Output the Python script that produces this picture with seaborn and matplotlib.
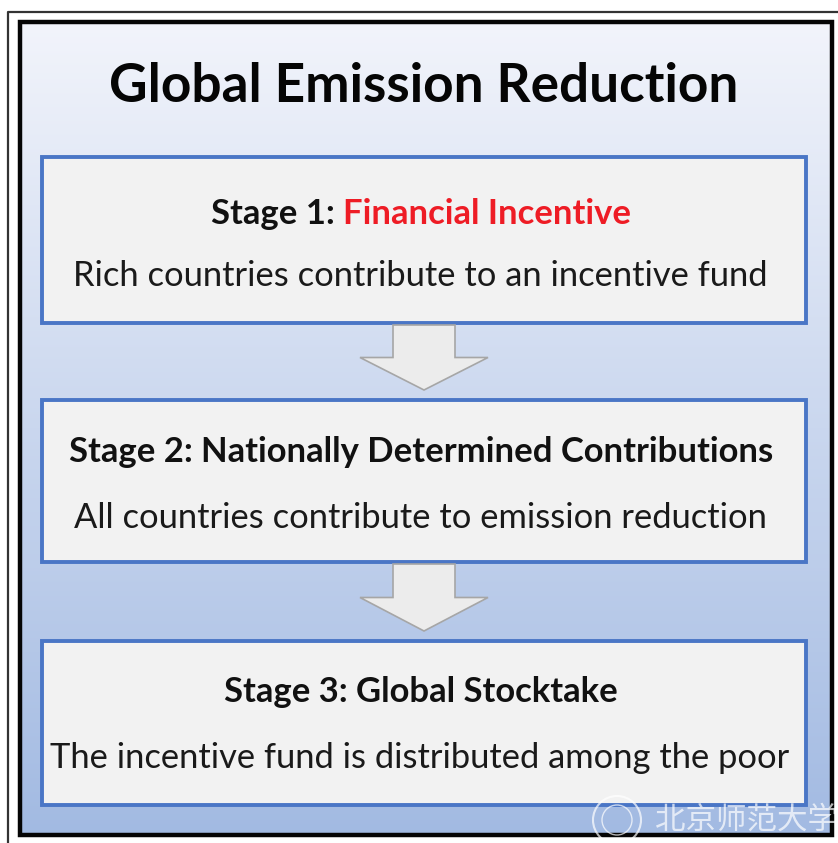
import numpy as np
import matplotlib
matplotlib.use("Agg")
import matplotlib.pyplot as plt
import seaborn as sns
from matplotlib.patches import Rectangle, Polygon

# ---- content ----
title = "Global Emission Reduction"
stage_labels = ["Stage 1: ", "Stage 2: ", "Stage 3: "]
stage_names = ["Financial Incentive", "Nationally Determined Contributions", "Global Stocktake"]
stage_name_colors = ["#ee1c25", "#111111", "#111111"]
stage_descriptions = [
    "Rich countries contribute to an incentive fund",
    "All countries contribute to emission reduction",
    "The incentive fund is distributed among the poor",
]
watermark = "北京师范大学"

# ---- layout (pixel space) ----
W, H = 838, 843
box_tops = [157, 400, 641]
box_bottoms = [323, 562, 805]
box_left, box_right = 42, 806
head_y = [214, 452, 692]
desc_y = [276, 518, 758]

sns.set_theme(style="white")
plt.rcParams["font.family"] = ["Lato", "DejaVu Sans"]

fig = plt.figure(figsize=(W / 100, H / 100), dpi=100)
fig.patch.set_facecolor("white")
ax = fig.add_axes([0, 0, 1, 1])
ax.set_xlim(0, W)
ax.set_ylim(H, 0)
ax.axis("off")

# gradient background inside the frame
grad = np.linspace(0, 1, 256)[:, None]
top_c = np.array([242, 244, 251]) / 255
bot_c = np.array([162, 186, 226]) / 255
img = top_c[None, None, :] * (1 - grad[..., None]) + bot_c[None, None, :] * grad[..., None]
img = np.repeat(img, 2, axis=1)
ax.imshow(img, extent=[20, 832, 836, 21], aspect="auto", zorder=0, interpolation="bilinear")

# outer thin frame
ax.plot([8, 8, W + 5], [H + 5, 12, 12], color="#333333", lw=1.6, zorder=1)
# thick frame
ax.add_patch(Rectangle((20, 22), 812, 813, fill=False, ec="#050505", lw=3.2, zorder=5))

fig.canvas.draw()
renderer = fig.canvas.get_renderer()


def fit_text(x, y, s, target_w, weight="normal", color="#111111", ha="center"):
    t = ax.text(x, y, s, fontsize=20, fontweight=weight, color=color, ha=ha, va="center", zorder=6)
    w = t.get_window_extent(renderer).width
    t.set_fontsize(20 * target_w / w)
    return t


fit_text(W / 2 + 5, 86, title, 630, weight="bold", color="#050505")

# stage boxes
for i in range(3):
    ax.add_patch(Rectangle((box_left, box_tops[i]), box_right - box_left, box_bottoms[i] - box_tops[i],
                           fc="#f2f2f2", ec="#4a76c6", lw=2.8, zorder=3))

# arrows
for i in range(2):
    y0 = box_bottoms[i] + 2
    y1 = box_tops[i + 1] - 10
    yh = y0 + (y1 - y0) * 0.5
    cx = 424
    pts = [(cx - 31, y0), (cx + 31, y0), (cx + 31, yh), (cx + 64, yh), (cx, y1),
           (cx - 64, yh), (cx - 31, yh)]
    ax.add_patch(Polygon(pts, closed=True, fc="#ececec", ec="#a6a6a6", lw=1.2, zorder=4))

# stage 2 heading determines bold size
t2 = fit_text(W / 2, head_y[1], stage_labels[1] + stage_names[1], 704, weight="bold")
fs_head = t2.get_fontsize()
t2.remove()

for i in range(3):
    a = ax.text(0, head_y[i], stage_labels[i], fontsize=fs_head, fontweight="bold", color="#111111",
                ha="left", va="center", zorder=6)
    b = ax.text(0, head_y[i], stage_names[i], fontsize=fs_head, fontweight="bold",
                color=stage_name_colors[i], ha="left", va="center", zorder=6)
    wa = a.get_window_extent(renderer).width
    wb = b.get_window_extent(renderer).width
    total = wa + wb
    x0 = W / 2 + 2 - total / 2
    a.set_x(x0)
    b.set_x(x0 + wa)

desc_widths = [692, 696, 744]
d_sizes = []
for i in range(3):
    t = ax.text(W / 2, desc_y[i], stage_descriptions[i], fontsize=20, ha="center", va="center",
                color="#1a1a1a", zorder=6)
    d_sizes.append(20 * desc_widths[i] / t.get_window_extent(renderer).width)
    t.remove()
fs_desc = float(np.mean(d_sizes))
for i in range(3):
    ax.text(W / 2 + 1, desc_y[i], stage_descriptions[i], fontsize=fs_desc, ha="center", va="center",
            color="#1a1a1a", zorder=6)

# watermark
ax.text(655, 820, watermark, fontsize=22, color="white", alpha=0.7, ha="left", va="center",
        family=["Noto Sans CJK SC", "DejaVu Sans"], style="italic", zorder=7, clip_on=True)
ax.add_patch(plt.Circle((617, 820), 24, fill=False, ec="white", lw=1.5, alpha=0.7, zorder=7))
ax.add_patch(plt.Circle((617, 820), 15, fill=False, ec="white", lw=1.0, alpha=0.7, zorder=7))

fig.savefig("out.png", dpi=100, facecolor="white")
